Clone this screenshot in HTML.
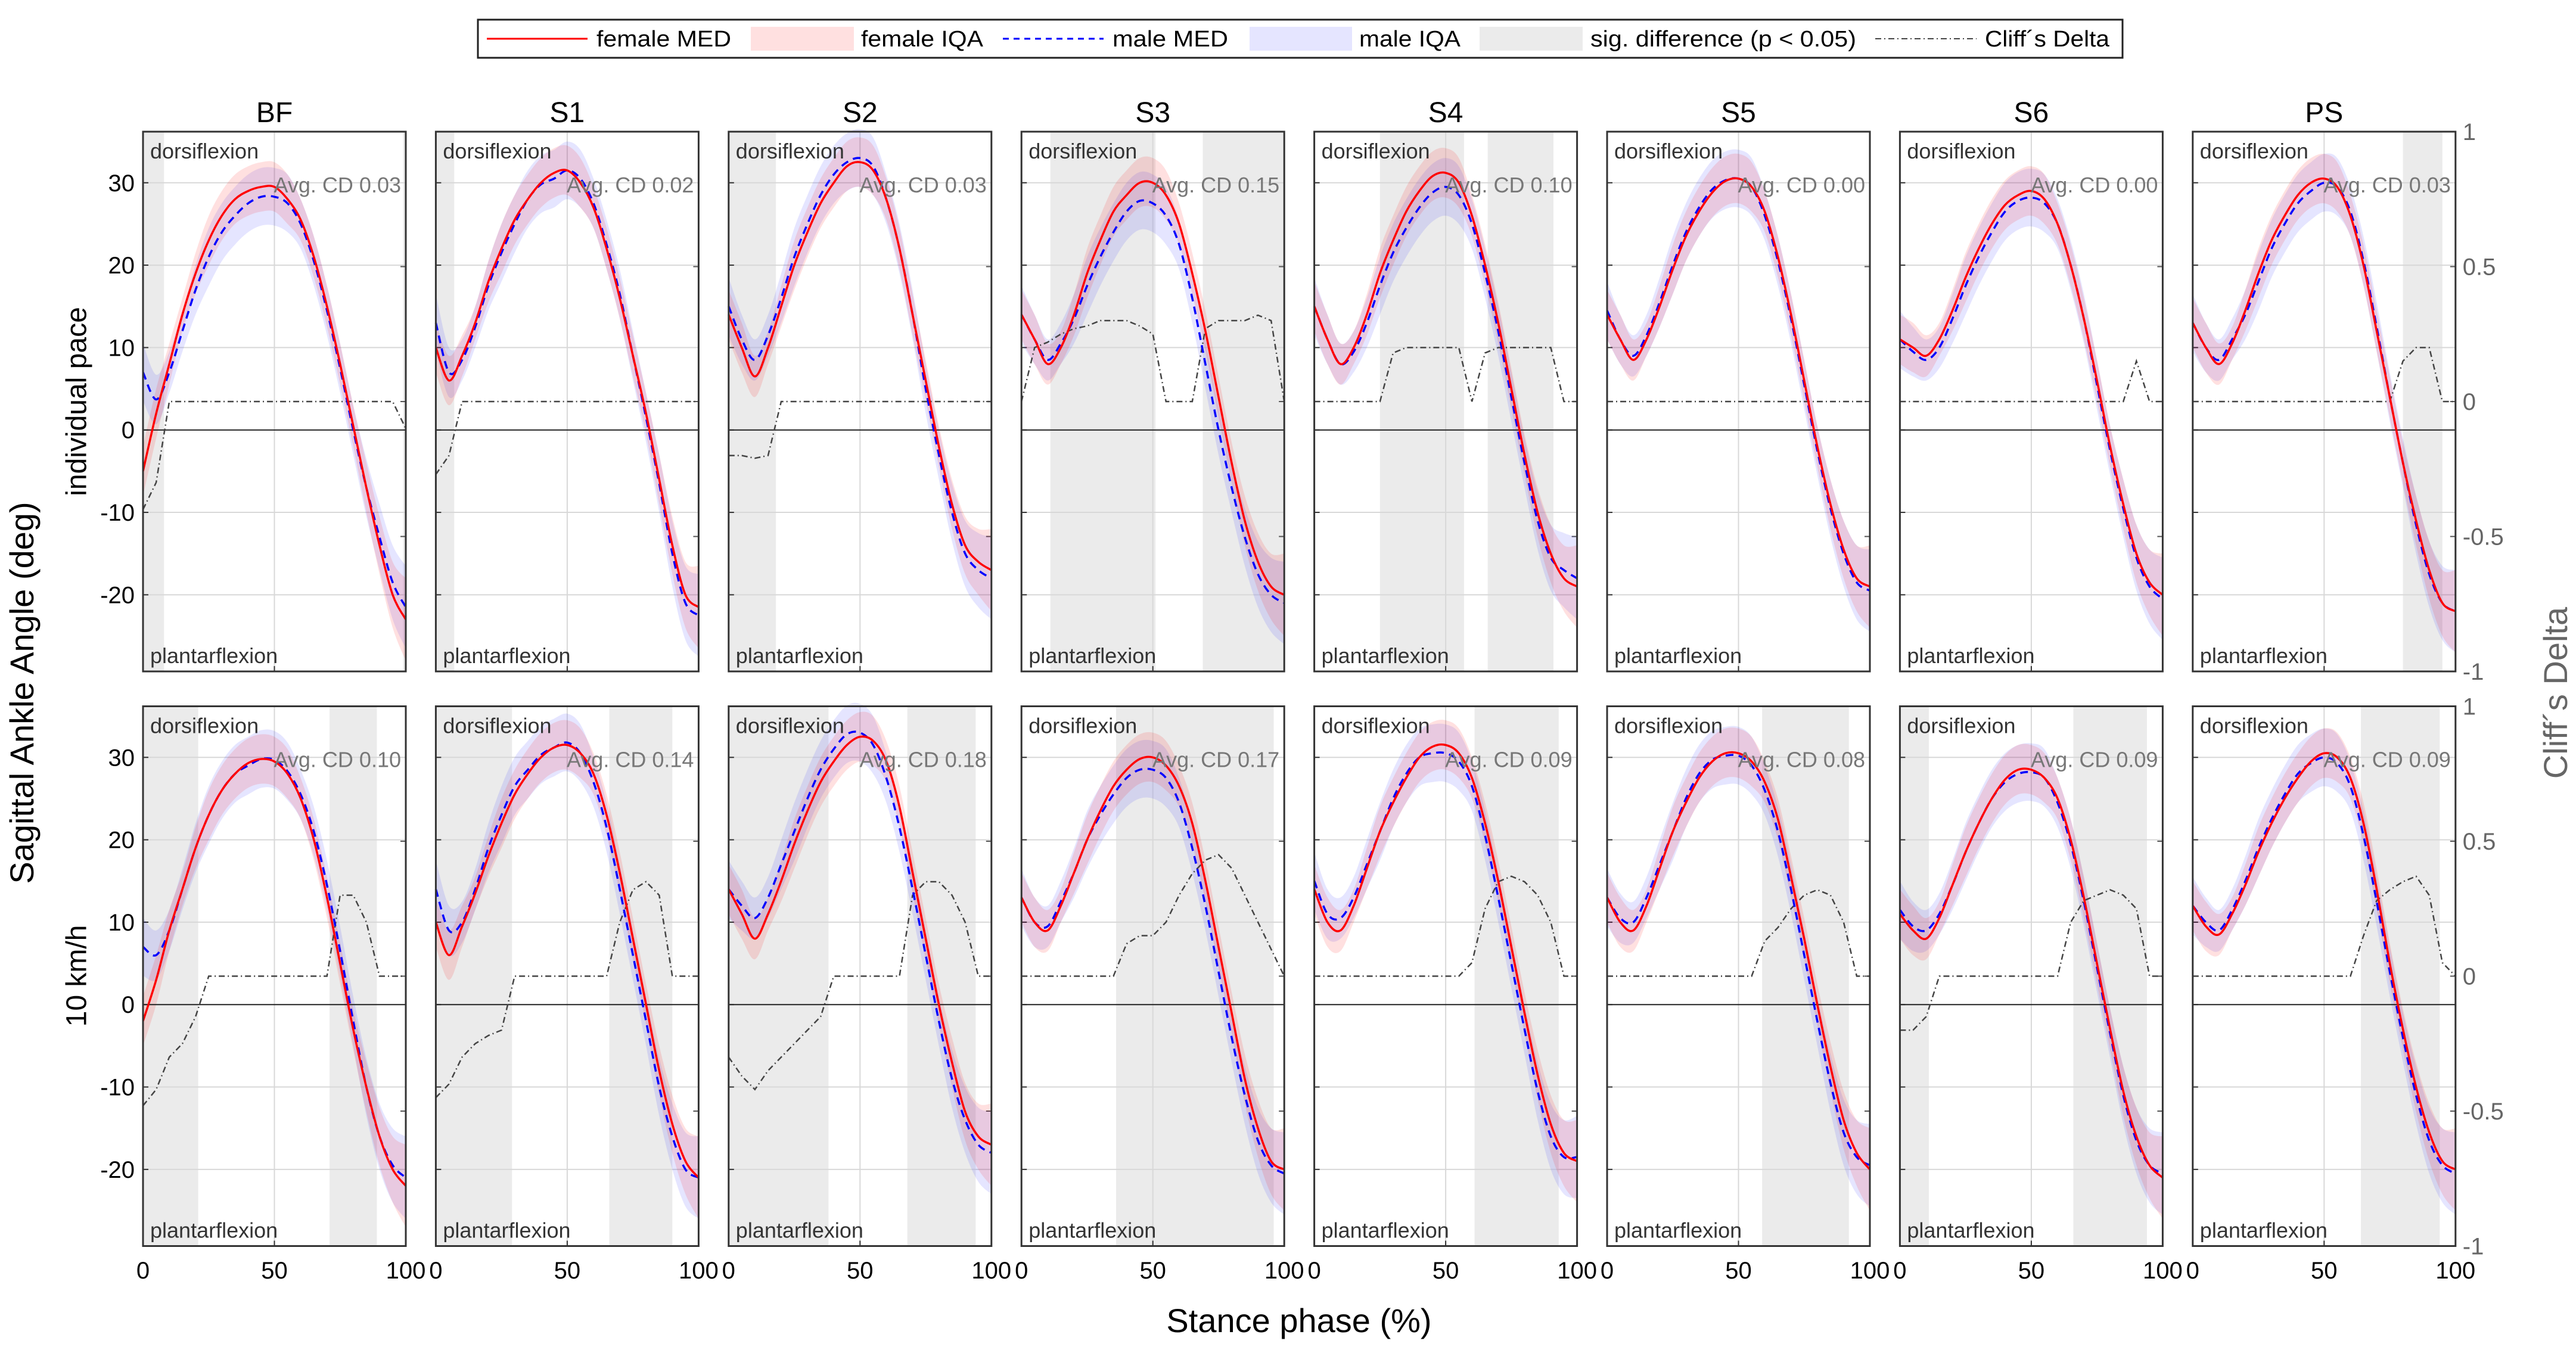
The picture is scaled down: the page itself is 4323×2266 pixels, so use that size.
<!DOCTYPE html>
<html><head><meta charset="utf-8"><style>
html,body{margin:0;padding:0;background:#fff;}
svg{display:block;font-family:"Liberation Sans",Arial,sans-serif;}
</style></head><body>
<svg id="fig" width="4323" height="2266" viewBox="0 0 4323 2266" xmlns="http://www.w3.org/2000/svg">
<g id="legend">
<rect x="802" y="33" width="2760" height="64" fill="#fff" stroke="#222" stroke-width="3"/>
<line x1="817" y1="65" x2="986" y2="65" stroke="#ff0000" stroke-width="3"/>
<text x="1001" y="78" font-size="38" textLength="226" lengthAdjust="spacingAndGlyphs">female MED</text>
<rect x="1260" y="45" width="173" height="40" fill="rgba(255,0,0,0.12)"/>
<text x="1445" y="78" font-size="38" textLength="205" lengthAdjust="spacingAndGlyphs">female IQA</text>
<line x1="1683" y1="65" x2="1852" y2="65" stroke="#0000ff" stroke-width="3" stroke-dasharray="10,8"/>
<text x="1867" y="78" font-size="38" textLength="194" lengthAdjust="spacingAndGlyphs">male MED</text>
<rect x="2097" y="45" width="172" height="40" fill="rgba(0,0,255,0.1)"/>
<text x="2281" y="78" font-size="38" textLength="170" lengthAdjust="spacingAndGlyphs">male IQA</text>
<rect x="2483" y="45" width="173" height="40" fill="#ebebeb"/>
<text x="2669" y="78" font-size="38" textLength="446" lengthAdjust="spacingAndGlyphs">sig. difference (p &lt; 0.05)</text>
<line x1="3147" y1="65" x2="3317" y2="65" stroke="#444" stroke-width="2" stroke-dasharray="10,5,2,5"/>
<text x="3331" y="78" font-size="38" textLength="209" lengthAdjust="spacingAndGlyphs">Cliff´s Delta</text>
</g>
<text x="41" y="1163" font-size="56" text-anchor="middle" transform="rotate(-90 41 1163)" dominant-baseline="middle">Sagittal Ankle Angle (deg)</text>
<text x="132" y="674" font-size="48" text-anchor="middle" transform="rotate(-90 132 674)" dominant-baseline="middle">individual pace</text>
<text x="132" y="1638" font-size="48" text-anchor="middle" transform="rotate(-90 132 1638)" dominant-baseline="middle">10  km/h</text>
<text x="4293" y="1163" font-size="56" fill="#666" text-anchor="middle" transform="rotate(-90 4293 1163)" dominant-baseline="middle">Cliff´s Delta</text>
<text x="2180" y="2236" font-size="56" text-anchor="middle">Stance phase (%)</text>
</svg>
<script>
const titles=["BF","S1","S2","S3","S4","S5","S6","PS"];
const xs=[0,5,10,15,20,25,30,35,40,45,50,55,60,65,70,75,80,85,90,95,100];
const femaleIqrHalf=[3,3,2.5,2,2.5,3,3,3,3,3,3,3,2.5,2.5,2.5,2.5,2.5,3,3.5,4,5];
const maleIqrHalf=[3.5,3,2.5,2.5,3,3.5,3.5,3.5,3.5,3.5,3.5,3.5,3,3,3,3,3,3.5,4,4.5,5];
const avgCDTop=["0.03","0.02","0.03","0.15","0.10","0.00","0.00","0.03"];
const avgCDBot=["0.10","0.14","0.18","0.17","0.09","0.08","0.09","0.09"];
const femTop=[
[-5,2,8,14,19,23,26,28,29,29.5,29.5,28,25.5,21,15,8,0.5,-7,-14,-20,-23],
[10,6,9,13,18,22,25.5,28,30,31.2,31.5,30,27,22,16,9,2,-6,-14,-20,-21.5],
[14,10,6.5,10,15,20,24,27.5,30,32,32.5,31.5,28,22,14,6,-2,-9,-14,-16,-17],
[14,11,8,10,14,19,23,26.5,28.5,30,30,28.5,25,19,12,4,-4,-11,-16,-19,-20],
[15,11,8,10,14,19,23,26.5,29,30.8,31.2,30,26,20,13,5,-3,-10,-15,-18,-19],
[14,11,8.5,11,15,19.5,23.5,26.5,28.8,30.2,30.5,29.5,26.5,21,14,6,-2,-9,-14.5,-18,-19],
[11,10,9,11,14.5,18.5,22,25,27.3,28.5,29,28,25,20,13.5,6,-2,-9,-15,-18.5,-20],
[13,10,8,10.5,14.5,19,23,26,28.5,30,30.5,29.5,26,20,12,4,-4,-11,-17,-21,-22]];
const malTop=[
[7,3.7,7,12,17,21,24,26,27.5,28.3,28.3,27.5,25,20.5,14.5,7.5,0,-7,-13,-18.5,-21.5],
[13,7,8.5,12.5,17.5,21.5,25,28,29.8,30.5,31.5,30.5,27.5,22.5,16.5,9,1.5,-6.5,-15,-21,-22.5],
[15,11,8.5,11.5,16,21,25,28.5,31,32.5,33,32,28,22,14,5,-3,-10,-15,-17,-18],
[14,11,8.5,10.5,13.5,17.5,21,24,26.5,27.8,27.5,26,22.5,16,8,0,-7,-13,-17.5,-20,-21],
[15,11,8,9.5,13,17.5,21.5,24.5,27,28.8,29.5,28.5,25,19,12,4,-4,-11,-15.5,-17,-18],
[14.5,11,9,11.5,15.5,20,24,27,29.2,30.3,30.5,29.5,26,20.5,13.5,5.5,-2.5,-9.5,-15,-18.5,-19.5],
[11,9.5,8.5,10,13.5,17.5,21,24,26.5,27.8,28.2,27.5,25,20,13.5,5.5,-2.5,-9.5,-15.5,-19,-20.5],
[13,10,8.5,11,14,18,22,25,27.5,29,30,29.5,26.5,20.5,12.5,4,-4,-11.5,-17.5,-21,-22]];
const femBot=[
[-2,3,9,14,19,23,26,28,29.3,29.8,29.5,28,25,20,13,5,-3,-10,-16,-20,-22],
[10,6,9.5,13.5,18,22,25.5,28,30,31.2,31.5,30.5,28,23,16,8,0,-8,-14.5,-19,-21],
[14,11,8,11,15,19.5,23.5,27,29.5,31.5,32.5,32,29.5,24,16,8,0,-7,-13,-16,-17],
[13,10,9,12,16,20,23.5,26.5,28.5,29.8,30,29,26.5,22,15,7,-1,-9,-15,-19,-20],
[14,10,9,12,16.5,21,24.5,27.5,30,31.3,31.5,30.5,27.5,22,15,7,-1,-8.5,-14.5,-18,-19],
[13,10,9,12,16.5,21,24.5,27.5,29.5,30.5,30.5,29.5,27,22.5,15.5,8,0,-7.5,-14,-18,-20],
[11,9,8,10.5,14.5,18.5,22,25,27.3,28.5,28.5,27.5,25,20,13,5,-3,-10.5,-16,-19.5,-21],
[12,9.5,8.5,11,14.5,18.5,22,25,27.5,29.5,30.5,30,27.5,22,14,5,-3,-10,-15.5,-19,-20]];
const malBot=[
[7,6,9,14,19,23,26,28,29,29.8,29.7,28.3,25.5,21,14.5,6.5,-2,-10,-16,-19.5,-21],
[14,9,10,14,19,23,26.5,28.5,30.3,31.2,31.8,30.5,27,21.5,14,6,-2,-10,-16,-20,-21],
[14,12,10.5,13,17,21,25,28.5,31,32.8,33,31.5,27.5,21.5,14,6,-2,-9,-14,-17,-18],
[13,10,9.5,12.5,16,20,23,25.5,27.5,28.5,28.5,27.5,24.5,19,12,4,-4,-11,-16.5,-19.5,-20.5],
[15,11,10.5,13,17,21,25,28,30,30.5,30.5,29.5,26.5,20.5,13,5,-3,-10.5,-16,-18.5,-18.5],
[13,10.5,10,13,17,21,25,28,29.7,30.2,30.2,29,26,21,14,6,-2,-9.5,-15.5,-18.5,-19.5],
[11.5,9.5,9,11,14.5,18.5,22,25,27,28,28.2,27.5,24.5,19.5,12.5,4.5,-3.5,-11,-16.5,-19.5,-20.5],
[12,10,9,11.5,15,19,22.5,25.5,28,29.3,30,29.3,26.5,20.5,12.5,4,-4,-11,-16.5,-19.5,-20.5]];
const cdTop=[
[-0.4,-0.3,0,0,0,0,0,0,0,0,0,0,0,0,0,0,0,0,0,0,-0.1],
[-0.27,-0.2,0,0,0,0,0,0,0,0,0,0,0,0,0,0,0,0,0,0,0],
[-0.2,-0.2,-0.21,-0.2,0,0,0,0,0,0,0,0,0,0,0,0,0,0,0,0,0],
[0,0.2,0.22,0.25,0.27,0.28,0.3,0.3,0.3,0.28,0.25,0,0,0,0.27,0.3,0.3,0.3,0.32,0.3,0],
[0,0,0,0,0,0,0.18,0.2,0.2,0.2,0.2,0.2,0,0.18,0.2,0.2,0.2,0.2,0.2,0,0],
[0,0,0,0,0,0,0,0,0,0,0,0,0,0,0,0,0,0,0,0,0],
[0,0,0,0,0,0,0,0,0,0,0,0,0,0,0,0,0,0,0.15,0,0],
[0,0,0,0,0,0,0,0,0,0,0,0,0,0,0,0,0.15,0.2,0.2,0,0]];
const cdBot=[
[-0.48,-0.42,-0.3,-0.25,-0.15,0,0,0,0,0,0,0,0,0,0,0.3,0.3,0.2,0,0,0],
[-0.45,-0.4,-0.3,-0.25,-0.22,-0.2,0,0,0,0,0,0,0,0,0.2,0.32,0.35,0.3,0,0,0],
[-0.3,-0.37,-0.42,-0.35,-0.3,-0.25,-0.2,-0.15,0,0,0,0,0,0,0.3,0.35,0.35,0.3,0.2,0,0],
[0,0,0,0,0,0,0,0,0.12,0.15,0.15,0.2,0.3,0.38,0.43,0.45,0.4,0.3,0.2,0.1,0],
[0,0,0,0,0,0,0,0,0,0,0,0,0.05,0.25,0.35,0.37,0.35,0.3,0.2,0,0],
[0,0,0,0,0,0,0,0,0,0,0,0,0.13,0.18,0.25,0.3,0.32,0.3,0.2,0,0],
[-0.2,-0.2,-0.15,0,0,0,0,0,0,0,0,0,0,0.2,0.28,0.3,0.32,0.3,0.25,0,0],
[0,0,0,0,0,0,0,0,0,0,0,0,0,0.15,0.28,0.32,0.35,0.37,0.3,0.05,0]];
const sigTop=[[[0,8],[99,100]],[[0,7]],[[0,18]],[[11,51],[69,100]],[[25,57],[66,91]],[],[],[[80,95]]];
const sigBot=[[[0,21],[71,89]],[[0,29],[66,90]],[[0,38],[68,94]],[[36,96]],[[61,93]],[[59,92]],[[0,11],[66,94]],[[64,94]]];
const yTicks=[30,20,10,0,-10,-20];
const cdTicks=[1,0.5,0,-0.5,-1];
const xTicks=[0,50,100];

const NS="http://www.w3.org/2000/svg";
const svg=document.getElementById("fig");
const PW=441,PH=906,X0=240,DX=491.4,TOPS=[221,1185.5],YMIN=-29.3,YMAX=36.2;
function mk(tag,attrs,parent){const e=document.createElementNS(NS,tag);for(const k in attrs)e.setAttribute(k,attrs[k]);(parent||svg).appendChild(e);return e;}
function smooth(pts){let d="M"+pts[0][0].toFixed(1)+","+pts[0][1].toFixed(1);for(let i=0;i<pts.length-1;i++){const p0=pts[Math.max(0,i-1)],p1=pts[i],p2=pts[i+1],p3=pts[Math.min(pts.length-1,i+2)];const c1=[p1[0]+(p2[0]-p0[0])/6,p1[1]+(p2[1]-p0[1])/6],c2=[p2[0]-(p3[0]-p1[0])/6,p2[1]-(p3[1]-p1[1])/6];d+="C"+c1[0].toFixed(1)+","+c1[1].toFixed(1)+" "+c2[0].toFixed(1)+","+c2[1].toFixed(1)+" "+p2[0].toFixed(1)+","+p2[1].toFixed(1);}return d;}
function smoothCont(pts){return smooth(pts).slice(1).replace(/^[^C]*/,"");}
for(let r=0;r<2;r++){
 const top=TOPS[r];
 const fem=r?femBot:femTop, mal=r?malBot:malTop, cd=r?cdBot:cdTop, sig=r?sigBot:sigTop, avg=r?avgCDBot:avgCDTop;
 for(let p=0;p<8;p++){
  const left=X0+p*DX;
  const sx=v=>left+v/100*PW;
  const sy=v=>top+(YMAX-v)/(YMAX-YMIN)*PH;
  const sc=v=>top+(1-v)/2*PH;
  const g=mk("g",{});
  
  
  sig[p].forEach(s=>{const e=mk("rect",{x:sx(s[0]),y:top,width:sx(s[1])-sx(s[0]),height:PH,fill:"#ebebeb"},g);
   
   });
  yTicks.forEach(v=>{if(v!==0){mk("line",{x1:left,x2:left+PW,y1:sy(v),y2:sy(v),stroke:"#d8d8d8","stroke-width":2},g);}
   mk("line",{x1:left,x2:left+9,y1:sy(v),y2:sy(v),stroke:"#333","stroke-width":2},g);});
  cdTicks.forEach(v=>mk("line",{x1:left+PW-9,x2:left+PW,y1:sc(v),y2:sc(v),stroke:"#555","stroke-width":2},g));
  mk("line",{x1:sx(50),x2:sx(50),y1:top,y2:top+PH,stroke:"#d8d8d8","stroke-width":2},g);
  mk("line",{x1:sx(50),x2:sx(50),y1:top+PH-9,y2:top+PH,stroke:"#333","stroke-width":2},g);
  const fu=xs.map((x,i)=>[sx(x),sy(fem[p][i]+femaleIqrHalf[i])]), fl=xs.map((x,i)=>[sx(x),sy(fem[p][i]-femaleIqrHalf[i])]).reverse();
  const mu=xs.map((x,i)=>[sx(x),sy(mal[p][i]+maleIqrHalf[i])]), ml=xs.map((x,i)=>[sx(x),sy(mal[p][i]-maleIqrHalf[i])]).reverse();
  const mb=mk("path",{d:smooth(mu)+"L"+ml[0][0]+","+ml[0][1]+smoothCont(ml)+"Z",fill:"rgba(0,0,255,0.1)"},g);
  
  
  const fb=mk("path",{d:smooth(fu)+"L"+fl[0][0]+","+fl[0][1]+smoothCont(fl)+"Z",fill:"rgba(255,0,0,0.12)"},g);
  
  
  mk("line",{x1:left,x2:left+PW,y1:sy(0),y2:sy(0),stroke:"#222","stroke-width":2},g);
  const cl=mk("polyline",{points:xs.map((x,i)=>sx(x)+","+sc(cd[p][i])).join(" "),fill:"none",stroke:"#444","stroke-width":2.5,"stroke-dasharray":"10,5,2,5"},g);
  
  
  const ml2=mk("path",{d:smooth(xs.map((x,i)=>[sx(x),sy(mal[p][i])])),fill:"none",stroke:"#0000ff","stroke-width":3.5,"stroke-dasharray":"13,9"},g);
  
  
  const fl2=mk("path",{d:smooth(xs.map((x,i)=>[sx(x),sy(fem[p][i])])),fill:"none",stroke:"#ff0000","stroke-width":3.5},g);
  
  
  mk("rect",{x:left,y:top,width:PW,height:PH,fill:"none",stroke:"#333","stroke-width":3},g);
  const t1=mk("text",{x:left+12,y:top+45,"font-size":36,fill:"#333"},g);t1.textContent="dorsiflexion";
  
  
  const t2=mk("text",{x:left+12,y:top+PH-14,"font-size":36,fill:"#333"},g);t2.textContent="plantarflexion";
  
  
  const t3=mk("text",{x:left+PW-8,y:top+102,"font-size":36,fill:"#777","text-anchor":"end"},g);t3.textContent="Avg. CD "+avg[p];
  
  
  if(r===0){const tt=mk("text",{x:left+PW/2,y:205,"font-size":48,"text-anchor":"middle"},g);tt.textContent=titles[p];
   
   }
  if(p===0){yTicks.forEach(v=>{const e=mk("text",{x:left-14,y:sy(v)+14,"font-size":40,"text-anchor":"end"},g);e.textContent=String(v);
   
   });}
  if(p===7){cdTicks.forEach(v=>{const e=mk("text",{x:left+PW+12,y:sc(v)+14,"font-size":40,fill:"#666"},g);e.textContent=String(v);
   
   });}
  if(r===1){xTicks.forEach(v=>{const e=mk("text",{x:sx(v),y:2146,"font-size":40,"text-anchor":"middle"},g);e.textContent=String(v);
   
   });}
 }
}
</script>
</body></html>
